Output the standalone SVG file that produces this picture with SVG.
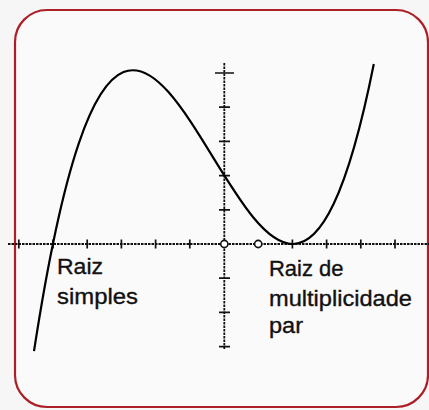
<svg xmlns="http://www.w3.org/2000/svg" width="429" height="410" viewBox="0 0 429 410">
  <style>
    .axis { stroke: #111; stroke-width: 1.8; stroke-dasharray: 2.5 1; fill: none; }
    .tick { stroke: #111; stroke-width: 1.7; fill: none; }
    .curve { stroke: #000; stroke-width: 2.2; fill: none; }
    .pt { fill: #fff; stroke: #111; stroke-width: 1.6; }
    .lbl { font-family: "Liberation Sans", Arial, sans-serif; font-size: 22px; fill: #111; stroke: #111; stroke-width: 0.35; }
  </style>
  <rect x="0" y="0" width="429" height="410" fill="#f7f6f6"/>
  <g id="frame">
    <rect x="15" y="10" width="413" height="397" rx="32" ry="32" fill="#fbfafa" stroke="#ac1f27" stroke-width="2.2"/>
  </g>
  <g id="axes">
    <line class="axis" x1="8" y1="244" x2="429" y2="244"/>
    <line class="axis" x1="224.3" y1="63" x2="224.3" y2="350"/>
    <path class="tick" d="M18.8 239.5V248.5 M53 239.5V248.5 M87.2 239.5V248.5 M121.4 239.5V248.5 M155.6 239.5V248.5 M189.8 239.5V248.5 M292.4 239.5V248.5 M326.6 239.5V248.5 M360.8 239.5V248.5 M395 239.5V248.5"/>
    <path class="tick" d="M215 73H234 M219 107.2H230 M219 141.4H230 M219 175.6H230 M219 209.8H230 M219 278.2H230 M219 312.4H230 M219 346.6H230"/>
  </g>
  <g id="curve">
    <path class="curve" d="M34 351.2 C147.6 -387.4 260.7 629.8 373.8 64"/>
  </g>
  <g id="points">
    <circle class="pt" cx="224.3" cy="244" r="3.6"/>
    <circle class="pt" cx="258.2" cy="244" r="3.6"/>
  </g>
  <g id="label-simples">
    <text class="lbl" x="57" y="274" textLength="46" lengthAdjust="spacingAndGlyphs">Raiz</text>
    <text class="lbl" x="57" y="304" textLength="81" lengthAdjust="spacingAndGlyphs">simples</text>
  </g>
  <g id="label-par">
    <text class="lbl" x="269" y="276" textLength="74.5" lengthAdjust="spacingAndGlyphs">Raiz de</text>
    <text class="lbl" x="269" y="306" textLength="143" lengthAdjust="spacingAndGlyphs">multiplicidade</text>
    <text class="lbl" x="269" y="333" textLength="34" lengthAdjust="spacingAndGlyphs">par</text>
  </g>
</svg>
